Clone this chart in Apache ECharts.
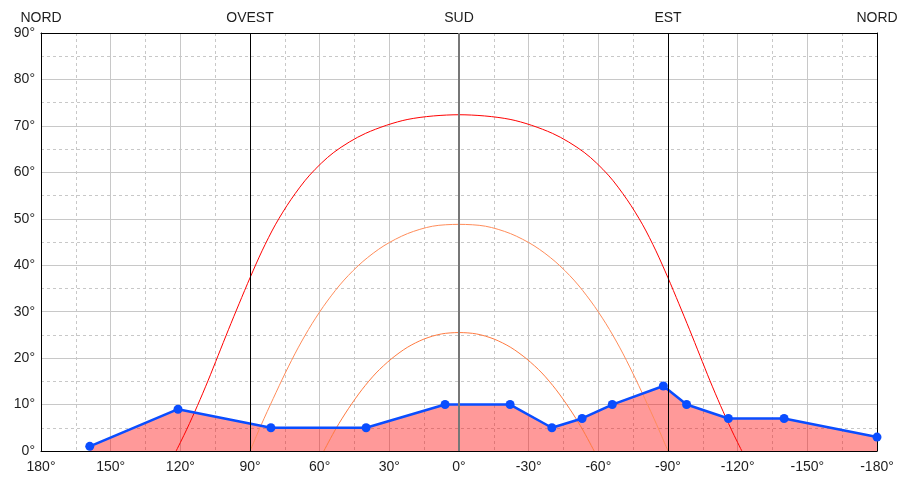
<!DOCTYPE html>
<html><head><meta charset="utf-8">
<script src="https://cdn.jsdelivr.net/npm/echarts@6/dist/echarts.min.js"></script>
<style>html,body{margin:0;padding:0;background:#fff}#c{width:911px;height:480px}</style>
</head><body><div id="c"></div>
<script>
// Horizon profile (azimuth from south, positive = west) and elevation
const horizonAz = [159, 121, 81, 40, 6, -22, -40, -53, -66, -88, -98, -116, -140, -180];
const horizonEl = [1, 9, 5, 5, 10, 10, 5, 7, 10, 14, 10, 7, 7, 3];

// Sun path, summer solstice
const summerAz = [121.8, 117.2, 112.6, 108.1, 103.7, 99.3, 94.7, 89.9, 84.8, 79.1, 72.4, 64.3, 53.9, 40.2, 22.0, 0,
  -22.0, -40.2, -53.9, -64.3, -72.4, -79.1, -84.8, -89.9, -94.7, -99.3, -103.7, -108.1, -112.6, -117.2, -121.8];
const summerEl = [0, 4.7, 9.8, 15.1, 20.6, 26.1, 31.7, 37.4, 43.1, 48.7, 54.1, 59.4, 64.3, 68.4, 71.4, 72.4,
  71.4, 68.4, 64.3, 59.4, 54.1, 48.7, 43.1, 37.4, 31.7, 26.1, 20.6, 15.1, 9.8, 4.7, 0];

// Sun path, equinox
const equinoxAz = [90, 85.1, 80.0, 74.8, 69.3, 63.3, 56.7, 49.5, 41.4, 32.3, 22.2, 11.4, 0,
  -11.4, -22.2, -32.3, -41.4, -49.5, -56.7, -63.3, -69.3, -74.8, -80.0, -85.1, -90];
const equinoxEl = [0, 5.7, 11.3, 16.8, 22.2, 27.4, 32.3, 36.8, 40.8, 44.2, 46.8, 48.4, 48.8,
  48.4, 46.8, 44.2, 40.8, 36.8, 32.3, 27.4, 22.2, 16.8, 11.3, 5.7, 0];

// Sun path, winter solstice
const winterAz = [58.2, 52.9, 47.5, 41.8, 35.7, 29.2, 22.3, 15.1, 7.6, 0,
  -7.6, -15.1, -22.3, -29.2, -35.7, -41.8, -47.5, -52.9, -58.2];
const winterEl = [0, 4.9, 9.2, 13.2, 16.8, 19.8, 22.3, 24.1, 25.2, 25.5,
  25.2, 24.1, 22.3, 19.8, 16.8, 13.2, 9.2, 4.9, 0];

// Compass labels
const compassValues = [180, 90, 0, -90, -180];
const compassNames = ['NORD', 'OVEST', 'SUD', 'EST', 'NORD'];

const zip = (a, b) => a.map((v, i) => [v, b[i]]);
const FONT = 'Liberation Sans';
const FS = 14;
const LABEL_COLOR = '#1e1e1e';
const chart = echarts.init(document.getElementById('c'), null, {renderer: 'canvas'});

const borderLine = {show: true, onZero: false, lineStyle: {color: '#000', width: 1}};

chart.setOption({
  animation: false,
  backgroundColor: '#fff',
  grid: {left: 41, right: 34, top: 33, bottom: 29, show: false},
  xAxis: [{
    type: 'value', min: -180, max: 180, interval: 30, inverse: true, position: 'bottom',
    axisLine: borderLine, axisTick: {show: false},
    axisLabel: {formatter: '{value}°', fontFamily: FONT, fontSize: FS, color: LABEL_COLOR, margin: 9, showMinLabel: true, showMaxLabel: true},
    splitLine: {show: true, lineStyle: {color: '#c8c8c8', width: 1}},
    minorTick: {show: false, splitNumber: 2},
    minorSplitLine: {show: true, lineStyle: {color: '#c8c8c8', type: [3, 3], width: 1}}
  }, {
    type: 'value', min: -180, max: 180, interval: 90, inverse: true, position: 'top',
    axisLine: borderLine, axisTick: {show: false}, splitLine: {show: false},
    axisLabel: {
      formatter: v => { const i = compassValues.indexOf(v); return i >= 0 ? compassNames[i] : ''; },
      fontFamily: FONT, fontSize: FS, color: LABEL_COLOR, margin: 8, showMinLabel: true, showMaxLabel: true
    }
  }],
  yAxis: [{
    type: 'value', min: 0, max: 90, interval: 10, position: 'left',
    axisLine: borderLine, axisTick: {show: false},
    axisLabel: {formatter: '{value}°', fontFamily: FONT, fontSize: FS, color: LABEL_COLOR, margin: 6},
    splitLine: {show: true, lineStyle: {color: '#c8c8c8', width: 1}},
    minorTick: {show: false, splitNumber: 2},
    minorSplitLine: {show: true, lineStyle: {color: '#c8c8c8', type: [3, 3], width: 1}}
  }, {
    type: 'value', min: 0, max: 90, interval: 10, position: 'right',
    axisLine: borderLine, axisTick: {show: false}, axisLabel: {show: false}, splitLine: {show: false}
  }],
  series: [{
    type: 'line', z: 1, silent: true, symbol: 'none',
    data: zip(horizonAz, horizonEl),
    lineStyle: {width: 0},
    areaStyle: {color: '#ff0000', opacity: 0.4, origin: 'start'},
    markLine: {
      silent: true, symbol: 'none', label: {show: false},
      data: [
        {xAxis: 90, lineStyle: {color: '#000', width: 1, type: 'solid'}},
        {xAxis: 0, lineStyle: {color: '#777', width: 2, type: 'solid'}},
        {xAxis: -90, lineStyle: {color: '#000', width: 1, type: 'solid'}}
      ]
    }
  }, {
    type: 'line', z: 2, silent: true, symbol: 'none', smooth: 0.3,
    data: zip(summerAz, summerEl), lineStyle: {color: '#ff0000', width: 1}
  }, {
    type: 'line', z: 2, silent: true, symbol: 'none', smooth: 0.3,
    data: zip(equinoxAz, equinoxEl), lineStyle: {color: '#ff8c5a', width: 1}
  }, {
    type: 'line', z: 2, silent: true, symbol: 'none', smooth: 0.3,
    data: zip(winterAz, winterEl), lineStyle: {color: '#ff7a40', width: 1}
  }, {
    type: 'line', z: 3, silent: true,
    data: zip(horizonAz, horizonEl),
    symbol: 'circle', symbolSize: 9,
    itemStyle: {color: '#0a4dff'},
    lineStyle: {color: '#0a4dff', width: 2.5}
  }]
});
</script></body></html>
